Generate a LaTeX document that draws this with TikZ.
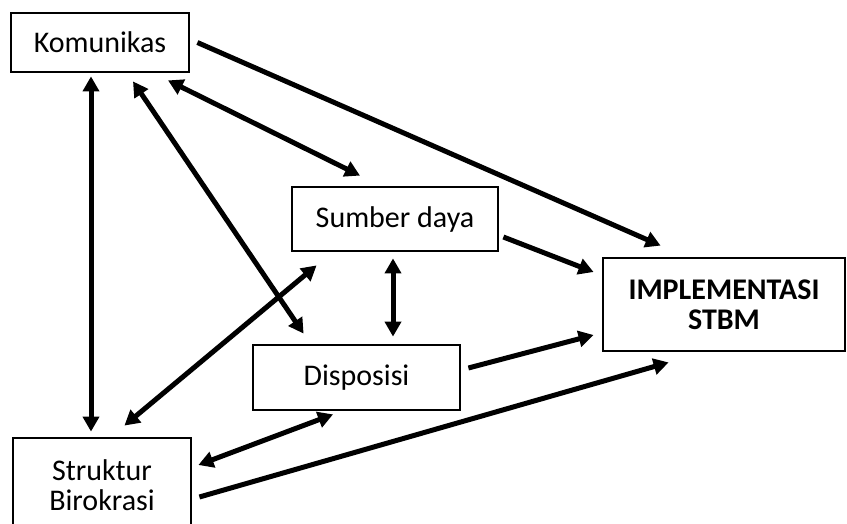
\documentclass[tikz,border=0pt]{standalone}
\usepackage{fontspec}
\setmainfont{Carlito}
\usetikzlibrary{arrows.meta,positioning}

\begin{document}
\begin{tikzpicture}[x=1pt,y=-1pt,
  font=\fontsize{30}{30}\selectfont,
  box/.style={draw,line width=2.8pt,inner sep=0pt,align=center},
  link/.style={line width=5pt,-{Triangle[length=15pt,width=16pt]}},
  both/.style={line width=5pt,{Triangle[length=15pt,width=16pt]}-{Triangle[length=15pt,width=16pt]}}]
\useasboundingbox (0,0) rectangle (847,523);
% factors
\node[box,minimum width=178pt,minimum height=59pt] (kom) at (100,42.5) {Komunikas};
\node[box,minimum width=206pt,minimum height=64pt] (sd) at (395,219) {Sumber daya};
\node[box,minimum width=207pt,minimum height=65pt] (disp) at (356.5,377.5) {Disposisi};
\node[box,minimum width=178pt,minimum height=94pt] (str) at (102,485) {Struktur\\Birokrasi};
% outcome
\node[box,minimum width=242pt,minimum height=93pt,font=\fontsize{30}{30}\selectfont\bfseries] (impl) at (724,304.5) {IMPLEMENTASI\\STBM};
% links to outcome
\draw[link] ([xshift=7pt]kom.east) -- ([xshift=59pt,yshift=11pt]impl.north west);
\draw[link] ([xshift=4pt,yshift=-18pt]sd.east) -- ([xshift=-8pt,yshift=32.5pt]impl.west);
\draw[link] ([xshift=7pt,yshift=9.5pt]disp.east) -- ([xshift=-8pt,yshift=-30.5pt]impl.west);
\draw[link] ([xshift=7pt,yshift=-12pt]str.east) -- ([xshift=67pt,yshift=-10pt]impl.south west);
% mutual links
\draw[both] ([xshift=-9pt,yshift=-3pt]kom.south) -- ([xshift=-11pt,yshift=5pt]str.north);
\draw[both] ([xshift=33pt,yshift=-8pt]kom.south) -- ([xshift=52pt,yshift=10pt]disp.north west);
\draw[both] ([xshift=68pt,yshift=-7pt]kom.south) -- ([xshift=-35pt,yshift=10pt]sd.north);
\draw[both] ([xshift=-2pt,yshift=-6pt]sd.south) -- ([xshift=36.5pt,yshift=7pt]disp.north);
\draw[both] ([xshift=26pt,yshift=-13pt]sd.south west) -- ([xshift=-68pt,yshift=11pt]str.north east);
\draw[both] ([xshift=-23.5pt,yshift=-3pt]disp.south) -- ([xshift=6pt,yshift=20pt]str.east);
\end{tikzpicture}
\end{document}
